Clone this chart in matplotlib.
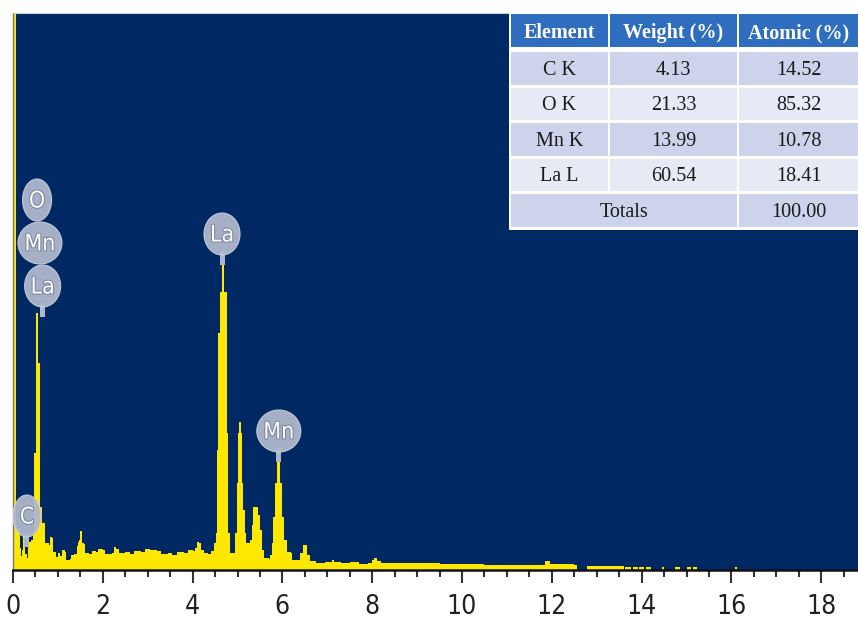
import numpy as np
import matplotlib.pyplot as plt
from matplotlib.patches import Ellipse, Rectangle
import matplotlib.patheffects as pe

# EDS spectrum (energy in keV, counts in arbitrary units)
energy_keV = [0.000, 0.060, 0.065, 0.100, 0.140, 0.150, 0.180, 0.200, 0.225, 0.260,
              0.275, 0.310, 0.330, 0.400, 0.440, 0.465, 0.470, 0.505, 0.510, 0.545,
              0.550, 0.598, 0.603, 0.645, 0.650, 0.715, 0.720, 0.800, 0.820, 0.870,
              0.885, 0.950, 1.000, 1.050, 1.100, 1.160, 1.190, 1.270, 1.300, 1.360,
              1.420, 1.440, 1.470, 1.490, 1.530, 1.545, 1.580, 1.600, 1.700, 1.750,
              1.850, 1.900, 2.000, 2.050, 2.200, 2.250, 2.300, 2.350, 2.500, 2.600,
              2.700, 2.850, 2.950, 3.050, 3.200, 3.300, 3.450, 3.550, 3.650, 3.800,
              3.900, 4.000, 4.060, 4.100, 4.150, 4.180, 4.250, 4.350, 4.420, 4.470,
              4.520, 4.545, 4.565, 4.570, 4.610, 4.615, 4.655, 4.660, 4.700, 4.705,
              4.755, 4.760, 4.790, 4.795, 4.830, 4.840, 4.920, 4.940, 4.990, 5.010,
              5.030, 5.060, 5.070, 5.100, 5.120, 5.170, 5.200, 5.250, 5.280, 5.320,
              5.345, 5.440, 5.460, 5.500, 5.550, 5.600, 5.700, 5.720, 5.760, 5.790,
              5.835, 5.880, 5.920, 5.950, 5.990, 6.030, 6.100, 6.200, 6.220, 6.360,
              6.400, 6.460, 6.520, 6.550, 6.620, 6.750, 6.950, 7.100, 7.150, 7.300,
              7.500, 7.700, 7.900, 8.000, 8.050, 8.100, 8.200, 8.600, 9.000, 9.500,
              10.00, 10.50, 11.00, 11.50, 11.85, 11.95, 12.50, 12.56, 12.57, 12.77,
              12.78, 13.20, 13.59, 13.60, 13.62, 13.75, 13.76, 13.80, 13.90, 13.91,
              13.95, 14.05, 14.06, 14.10, 14.20, 14.21, 14.45, 14.46, 14.50, 14.51,
              14.74, 14.75, 14.85, 14.86, 15.00, 15.01, 15.10, 15.11, 15.15, 15.22,
              15.23, 16.08, 16.09, 16.12, 16.13, 18.90]
counts = [600, 600, 45, 42, 40, 22, 14, 20, 34, 34,
          16, 12, 28, 30, 40, 40, 117, 117, 257, 257,
          207, 207, 63, 63, 47, 45, 27, 25, 33, 32,
          18, 13, 17, 14, 20, 18, 10, 11, 15, 16,
          24, 28, 30, 39, 39, 27, 26, 17, 16, 19,
          18, 21, 20, 16, 17, 23, 21, 17, 18, 16,
          19, 18, 21, 20, 19, 16, 17, 15, 18, 17,
          20, 19, 22, 28, 27, 20, 17, 16, 19, 27,
          37, 120, 120, 237, 237, 278, 278, 305, 305, 278,
          278, 137, 137, 37, 30, 17, 17, 37, 87, 137,
          148, 148, 137, 87, 60, 37, 27, 27, 30, 45,
          63, 63, 55, 40, 20, 12, 11, 15, 27, 53,
          87, 108, 108, 87, 53, 30, 18, 17, 10, 10,
          17, 25, 25, 15, 9, 7, 8, 10, 8, 7,
          8, 6, 7, 10, 12, 9, 7, 7, 7, 6,
          6, 5, 5, 5, 9, 6, 5, 5, 0, 0,
          4, 4, 4, 0, 3, 3, 0, 3, 3, 0,
          3, 3, 0, 3, 3, 0, 0, 3, 3, 0,
          0, 3, 3, 0, 0, 3, 3, 0, 3, 3,
          0, 0, 3, 3, 0, 0]

# peak labels: text, energy and the count level the marker points at
peak_labels = ['C', 'La', 'Mn', 'O', 'La', 'Mn']
peak_keV = [0.31, 0.66, 0.60, 0.535, 4.655, 5.92]
peak_tip = [23, 253, 253, 253, 305, 108]

# composition table
tbl_header = ['Element', 'Weight (%)', 'Atomic (%)']
tbl_element = ['C K', 'O K', 'Mn K', 'La L']
tbl_weight = ['4.13', '21.33', '13.99', '60.54']
tbl_atomic = ['14.52', '85.32', '10.78', '18.41']
tbl_total = '100.00'

navy = '#002862'
yellow = '#FFE800'

fig = plt.figure(figsize=(8.58, 6.23), dpi=100)
px_w, px_h = 858, 623
ax = fig.add_axes([13 / px_w, 53 / px_h, 845 / px_w, 557 / px_h])
ax.set_facecolor(navy)
ax.fill_between(energy_keV, counts, 0, color=yellow, lw=0, step='post', zorder=2)
ax.set_xlim(0, 845 / 44.9)
ax.set_ylim(0, 557)
kev_px = 44.9  # pixels per keV on this axis

ax.set_xticks(np.arange(0, 19, 2))
ax.set_xticks(np.arange(0, 19, 0.5), minor=True)
ax.set_yticks([])
ax.tick_params(axis='x', which='major', length=9.5, width=1.5, color='#333333',
               pad=8, labelsize=19, labelcolor='#222222')
ax.tick_params(axis='x', which='minor', length=5, width=1.5, color='#333333')
for lab in ax.get_xticklabels():
    lab.set_family('DejaVu Sans')
    lab.set_fontstretch('condensed')
ax.spines['right'].set_visible(False)
ax.spines['top'].set_color('#cccccc')
ax.spines['top'].set_linewidth(0.8)
ax.spines['left'].set_color('#777777')
ax.spines['left'].set_linewidth(1.0)
ax.spines['bottom'].set_color('#111111')
ax.spines['bottom'].set_linewidth(1.8)
ax.spines['bottom'].set_zorder(3)

# peak marker bubbles
bub_color = '#AFB7CC'
bub_h = 42
stem = 10
widths = {'C': 28, 'O': 29, 'La': 36, 'Mn': 44}
seen = {}
for lab, e, tip in zip(peak_labels, peak_keV, peak_tip):
    k = seen.get(tip, 0)
    seen[tip] = k + 1
    cy = tip + stem + bub_h / 2 + k * 43
    w = widths[lab] / kev_px
    if k == 0:
        ax.add_patch(Rectangle((e - 2.5 / kev_px, tip), 5 / kev_px, stem + 4,
                               color=bub_color, lw=0, zorder=4))
    ax.add_patch(Ellipse((e, cy), w, bub_h, facecolor=bub_color, edgecolor='#c8cedd',
                         lw=0.8, alpha=0.95, zorder=4))
    ax.text(e, cy - 1, lab, ha='center', va='center', color='white', fontsize=16.5,
            family='DejaVu Sans', fontstretch='condensed', zorder=5,
            path_effects=[pe.withStroke(linewidth=1.5, foreground='#7d869c')])

# table overlay drawn in pixel coordinates
ov = fig.add_axes([0, 0, 1, 1], zorder=5)
ov.set_xlim(0, px_w)
ov.set_ylim(px_h, 0)
ov.axis('off')
ov.add_patch(Rectangle((509, 12), 349, 218, color='white', lw=0))
col_x = [511, 610, 739]
col_w = [97, 127, 119]
row_y = [14, 52, 87.5, 123, 158.5, 194]
row_h = [33, 32.5, 32.5, 32.5, 32.5, 33]
head_col = '#2F6DBF'
row_cols = ['#CDD3EA', '#E7E9F4']
serif = ['Liberation Serif', 'DejaVu Serif']
fs = 14.5

for j, txt in enumerate(tbl_header):
    ov.add_patch(Rectangle((col_x[j], row_y[0]), col_w[j], row_h[0], color=head_col, lw=0))
    ov.text(col_x[j] + col_w[j] / 2, row_y[0] + row_h[0] / 2 + 2.5, txt, ha='center',
            va='center', color='white', fontsize=fs, fontweight='bold', family=serif)

for i, row in enumerate(zip(tbl_element, tbl_weight, tbl_atomic)):
    y = row_y[i + 1]
    for j, txt in enumerate(row):
        ov.add_patch(Rectangle((col_x[j], y), col_w[j], row_h[i + 1],
                               color=row_cols[i % 2], lw=0))
        ov.text(col_x[j] + col_w[j] / 2, y + row_h[i + 1] / 2 + 2, txt, ha='center',
                va='center', color='#1a1a1a', fontsize=fs, family=serif)

y = row_y[5]
ov.add_patch(Rectangle((col_x[0], y), col_x[1] + col_w[1] - col_x[0], row_h[5],
                       color=row_cols[0], lw=0))
ov.text((col_x[0] + col_x[1] + col_w[1]) / 2, y + row_h[5] / 2 + 2, 'Totals',
        ha='center', va='center', color='#1a1a1a', fontsize=fs, family=serif)
ov.add_patch(Rectangle((col_x[2], y), col_w[2], row_h[5], color=row_cols[0], lw=0))
ov.text(col_x[2] + col_w[2] / 2, y + row_h[5] / 2 + 2, tbl_total, ha='center',
        va='center', color='#1a1a1a', fontsize=fs, family=serif)

fig.savefig('out.png', dpi=100)
